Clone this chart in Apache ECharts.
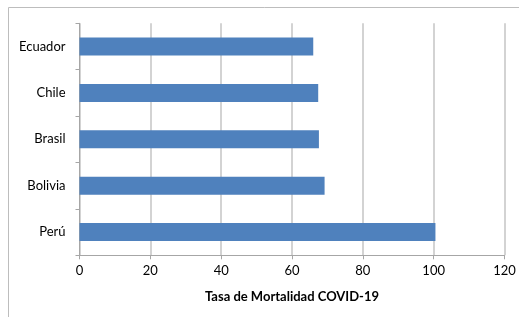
<!DOCTYPE html>
<html>
<head>
<meta charset="utf-8">
<script src="https://cdn.jsdelivr.net/npm/echarts@6/dist/echarts.min.js"></script>
<style>
  html, body { margin: 0; padding: 0; background: #fff; }
  #chart { width: 519px; height: 317px; }
</style>
</head>
<body>
<div id="chart"></div>
<script>
// países, de abajo hacia arriba
const countries = ['Perú', 'Bolivia', 'Brasil', 'Chile', 'Ecuador'];
const mortality = [100.5, 69.2, 67.6, 67.4, 66.0];
const xTicks = [0, 20, 40, 60, 80, 100, 120];

const chart = echarts.init(document.getElementById('chart'));

const option = {
  animation: false,
  textStyle: { fontFamily: 'Lato' },
  graphic: [
    {
      type: 'rect',
      shape: { x: 8.5, y: 7.5, width: 600, height: 400 },
      style: { fill: 'none', stroke: '#BDBDBD', lineWidth: 1 },
      silent: true
    }
  ],
  grid: {
    left: 79.5,
    right: 14.5,
    top: 23.3,
    bottom: 61.7
  },
  xAxis: {
    type: 'value',
    min: xTicks[0],
    max: xTicks[xTicks.length - 1],
    interval: 20,
    name: 'Tasa de Mortalidad COVID-19',
    nameLocation: 'middle',
    nameGap: 35,
    nameTextStyle: { fontFamily: 'Lato', fontWeight: 'bold', fontSize: 13, color: '#000' },
    axisLine: { show: true, lineStyle: { color: '#A6A6A6', width: 1 } },
    axisTick: { show: true, length: 4, lineStyle: { color: '#A6A6A6' } },
    axisLabel: { color: '#000', fontSize: 13, margin: 9 },
    splitLine: { show: true, lineStyle: { color: '#C4C4C4', width: 1.5 } }
  },
  yAxis: {
    type: 'category',
    data: countries,
    axisLine: { show: true, lineStyle: { color: '#A6A6A6', width: 1 } },
    axisTick: { show: true, length: 4, lineStyle: { color: '#A6A6A6' } },
    axisLabel: { color: '#000', fontSize: 13, margin: 14 },
    splitLine: { show: false }
  },
  series: [
    {
      type: 'bar',
      data: mortality,
      barWidth: 18,
      itemStyle: { color: '#4F81BD' }
    }
  ]
};

chart.setOption(option);
</script>
</body>
</html>
